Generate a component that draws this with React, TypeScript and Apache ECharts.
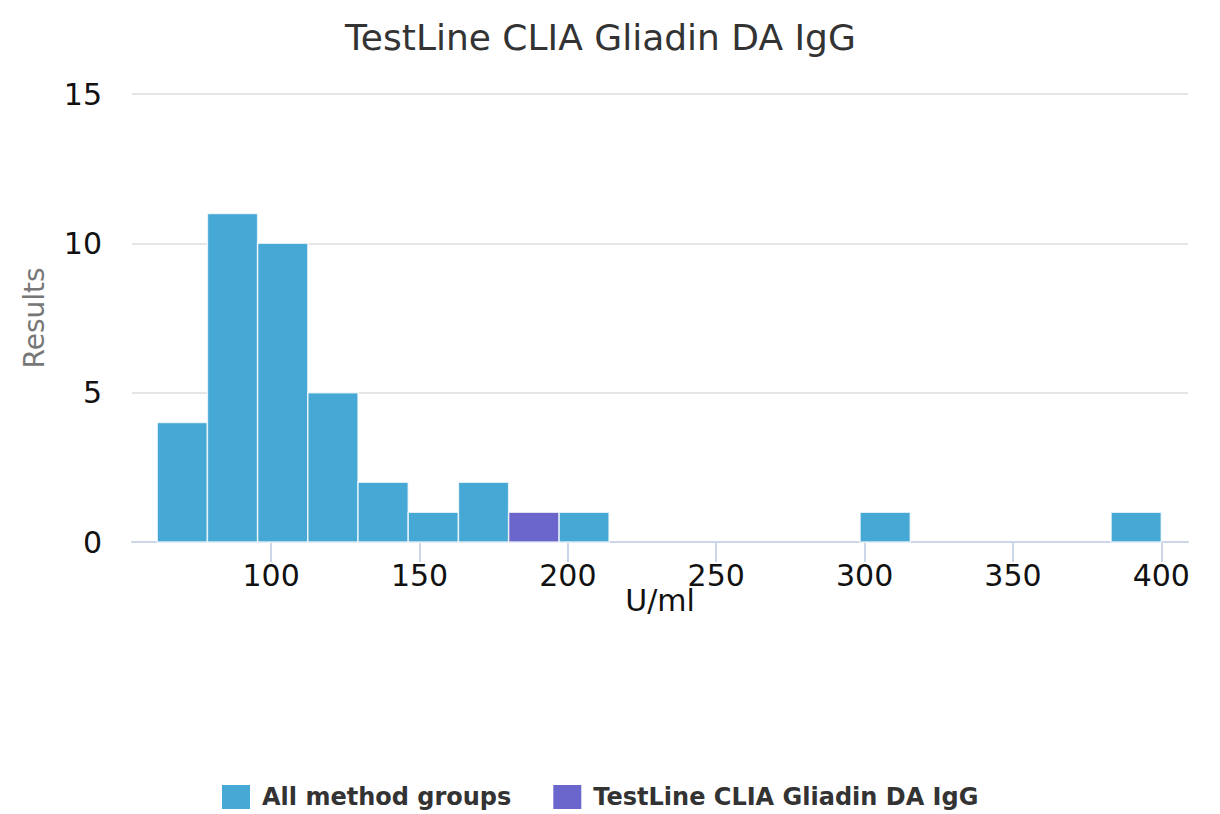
import React, { useEffect, useRef } from "react";
import * as echarts from "echarts";

const chartTitle = "TestLine CLIA Gliadin DA IgG";
const seriesNames = ["All method groups", "TestLine CLIA Gliadin DA IgG"];
const binEdges = [
  61.6, 78.52, 95.44, 112.36, 129.28, 146.2, 163.12, 180.04, 196.96, 213.88,
  230.8, 247.72, 264.64, 281.56, 298.48, 315.4, 332.32, 349.24, 366.16, 383.08, 400.0,
];
const allGroupCounts = [4, 11, 10, 5, 2, 1, 2, 0, 1, 0, 0, 0, 0, 0, 1, 0, 0, 0, 0, 1];
const methodCounts = [0, 0, 0, 0, 0, 0, 0, 1, 0, 0, 0, 0, 0, 0, 0, 0, 0, 0, 0, 0];
const xTicks = [100, 150, 200, 250, 300, 350, 400];
const xAxisName = "U/ml";
const yAxisName = "Results";

const FONT = "DejaVu Sans";

function toBins(counts: number[]) {
  return counts.map((c, i) => [binEdges[i], binEdges[i + 1], c]);
}

export default function App() {
  const ref = useRef<HTMLDivElement>(null);
  useEffect(() => {
    document.body.style.margin = "0";
    if (!ref.current) return;
    const chart = echarts.init(ref.current, undefined, { renderer: "svg" });
    const renderItem = (params: any, api: any) => {
      const x0 = api.value(0);
      const x1 = api.value(1);
      const v = api.value(2);
      if (!v) return null;
      const p0 = api.coord([x0, v]);
      const p1 = api.coord([x1, 0]);
      return {
        type: "rect",
        shape: { x: p0[0], y: p0[1], width: p1[0] - p0[0], height: p1[1] - p0[1] },
        style: { fill: api.visual("color"), stroke: "rgba(255,255,255,0.75)", lineWidth: 1.5 },
      };
    };
    chart.setOption({
      animation: false,
      title: {
        text: chartTitle,
        left: 340,
        top: 14,
        textStyle: { fontSize: 36, fontWeight: "normal", color: "#333333", fontFamily: FONT },
      },
      legend: {
        left: 217,
        top: 780,
        icon: "rect",
        itemWidth: 28,
        itemHeight: 24,
        itemGap: 42,
        data: seriesNames,
        textStyle: {
          fontSize: 24,
          fontWeight: "bold",
          color: "#333333",
          fontFamily: FONT,
          padding: [0, 0, 0, 7],
        },
      },
      grid: { left: 132, right: 32, top: 94, bottom: 272, containLabel: false, outerBoundsMode: "none" },
      xAxis: {
        type: "value",
        min: 53.1,
        max: 409,
        name: xAxisName,
        nameLocation: "middle",
        nameGap: 43,
        nameMoveOverlap: false,
        nameTextStyle: { fontSize: 30, color: "#111111", fontFamily: FONT },
        axisLine: { show: true, lineStyle: { color: "#ccd6eb", width: 2 } },
        axisTick: { show: true, length: 20, customValues: xTicks, lineStyle: { color: "#ccd6eb", width: 2 } },
        axisLabel: {
          customValues: xTicks,
          fontSize: 30,
          color: "#111111",
          fontFamily: FONT,
          margin: 18,
        },
        splitLine: { show: false },
      },
      yAxis: {
        type: "value",
        min: 0,
        max: 15,
        interval: 5,
        name: yAxisName,
        nameLocation: "middle",
        nameGap: 84,
        nameMoveOverlap: false,
        nameTextStyle: { fontSize: 28, color: "#777777", fontFamily: FONT },
        axisLine: { show: false },
        axisTick: { show: false },
        axisLabel: { fontSize: 30, color: "#111111", fontFamily: FONT, margin: 30 },
        splitLine: { show: true, lineStyle: { color: "#e6e6e6", width: 2 } },
      },
      series: [
        {
          name: seriesNames[0],
          type: "custom",
          renderItem,
          itemStyle: { color: "#45a8d5" },
          encode: { x: [0, 1], y: 2 },
          data: toBins(allGroupCounts),
        },
        {
          name: seriesNames[1],
          type: "custom",
          renderItem,
          itemStyle: { color: "#6a66cb" },
          encode: { x: [0, 1], y: 2 },
          data: toBins(methodCounts),
        },
      ],
    });
    return () => chart.dispose();
  }, []);
  return <div ref={ref} style={{ width: 1220, height: 814 }} />;
}
